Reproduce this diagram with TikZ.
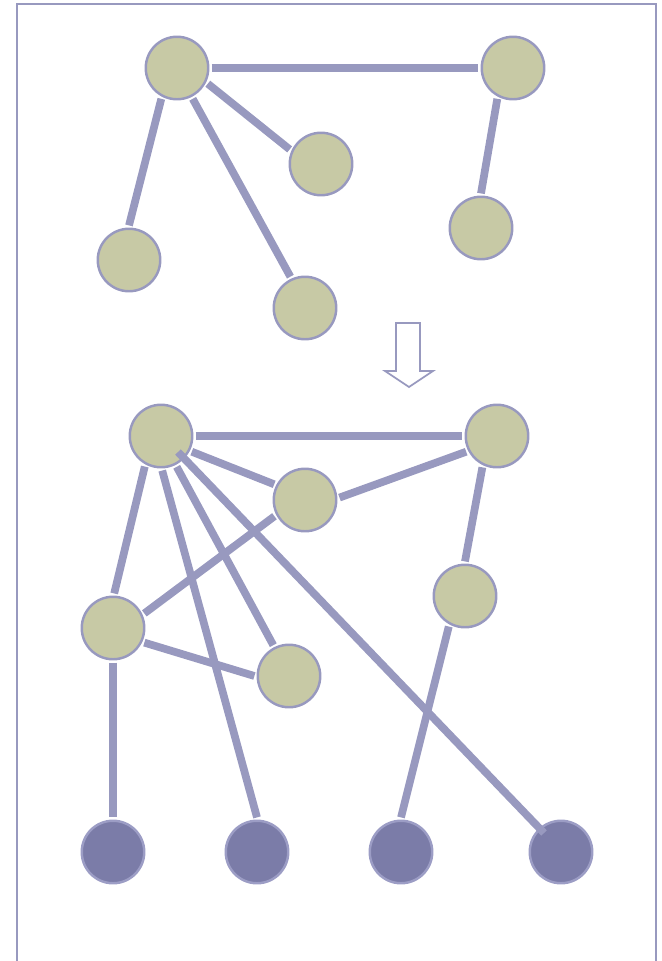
\documentclass[tikz,border=0pt]{standalone}
\usepackage{tikz}
\usetikzlibrary{calc}
\usepackage{xcolor}
\definecolor{Olive}{HTML}{C7C9A5}
\definecolor{Rim}{HTML}{9899BF}
\definecolor{Leaf}{HTML}{7B7CA8}
\definecolor{LeafRim}{HTML}{9C9DC5}

\begin{document}
\begin{tikzpicture}[
            x=0.02cm, y=-0.02cm,
            vertex/.style={
                circle,
                draw=Rim,
                fill=Olive,
                line width=1.4pt,
                minimum size=1.25cm,
                inner sep=0pt,
                outer sep=1.9pt
            },
            leaf/.style={
                vertex,
                draw=LeafRim,
                fill=Leaf
            },
            link/.style={line width=4.4pt, color=Rim},
            frame/.style={draw=Rim, line width=1.2pt},
            hollow/.style={draw=Rim, line width=1pt, fill=white}
        ]
            \useasboundingbox (0,0) rectangle (662,961);
            \draw[frame] (17,4) rectangle (656,990);

            % Upper tree
            \node[vertex] (ta) at (177,68) {};
            \node[vertex] (tb) at (513,68) {};
            \node[vertex] (tc) at (321,164) {};
            \node[vertex] (td) at (481,228) {};
            \node[vertex] (te) at (129,260) {};
            \node[vertex] (tf) at (305,308) {};

            \draw[link] (ta.east) -- (tb.west);
            \draw[link] (ta.333) -- (tc.155);
            \draw[link] (ta.243) -- (te.north);
            \draw[link] (ta.297) -- (tf.115);
            \draw[link] (tb.243) -- (td.north);

            % Transition arrow
            \draw[hollow] (396,323) -- (420,323) -- (420,371) -- (433,371)
                -- (409,387) -- (385,371) -- (396,371) -- cycle;

            % Lower graph
            \node[vertex] (ba) at (161,436) {};
            \node[vertex] (bb) at (497,436) {};
            \node[vertex] (bc) at (305,500) {};
            \node[vertex] (bd) at (465,596) {};
            \node[vertex] (be) at (113,628) {};
            \node[vertex] (bf) at (289,676) {};

            \node[leaf] (la) at (113,852) {};
            \node[leaf] (lb) at (257,852) {};
            \node[leaf] (lc) at (401,852) {};
            \node[leaf] (ld) at (561,852) {};

            \draw[link] (ba.east) -- (bb.west);
            \draw[link] (ba.333) -- (bc.153);
            \draw[link] (bc.4) -- (bb.207);
            \draw[link] (bc.208) -- (be.25);
            \draw[link] (ba.242) -- (be.88);
            \draw[link] (ba.272) -- (lb.north);
            \draw[link] (ba.297) -- (bf.117);
            \draw[link] (bb.245) -- (bd.north);
            \draw[link] (bd.242) -- (lc.north);
            \draw[link] (be.south) -- (la.north);
            \draw[link] (be.335) -- (bf.west);

            % Long link drawn across both discs
            \draw[link] ($(ba)+(17,16)$) -- ($(ld)+(-17,-19)$);
        \end{tikzpicture}
\end{document}
